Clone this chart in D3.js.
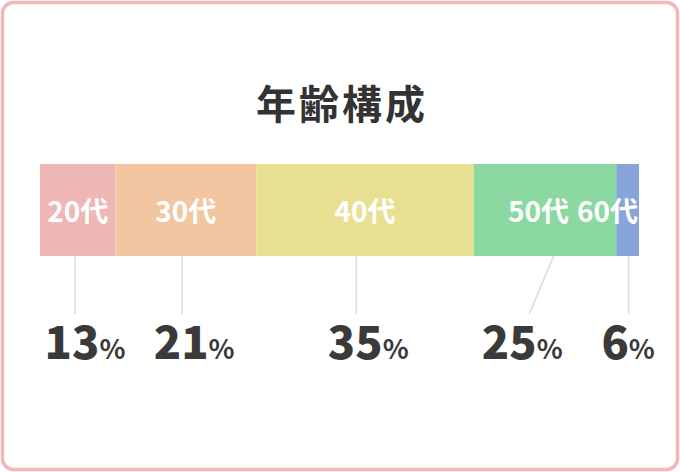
<!DOCTYPE html>
<html><head><meta charset="utf-8">
<script src="https://cdn.jsdelivr.net/npm/d3@7"></script>
<style>
html,body{margin:0;padding:0;background:#fff;}
svg{display:block;font-family:"Noto Sans CJK JP","Noto Sans",sans-serif;}
</style></head>
<body>
<svg id="chart" width="680" height="472"></svg>
<script>
// ---- data ----
const title = "年齢構成";
const categories = ["20代", "30代", "40代", "50代", "60代"];
const barValues = [12.6, 23.5, 36.3, 23.8, 3.8];      // bar widths as drawn
const percentLabels = ["13", "21", "35", "25", "6"];   // labelled shares
const colors = ["#efb6b6", "#f2c6a1", "#e9df93", "#8bd8a3", "#88a5d9"];

// ---- layout ----
const W = 680, H = 472;
const bar = {x0: 40, x1: 639, y: 164, h: 92};
const leaderTopOff = [-2.7, -3.7, -8.7, 8.7, 1];
const leaderBotOff = [-2.7, -3.7, -8.7, -15.7, 1];
const pctOff = [10, 12, 12, -7, -0.5];

const svg = d3.select("#chart");

svg.append("rect")
  .attr("x", 2.5).attr("y", 2.5)
  .attr("width", W - 5).attr("height", H - 5)
  .attr("rx", 11).attr("ry", 11)
  .attr("fill", "#fff")
  .attr("stroke", "#f0b8b8").attr("stroke-width", 3.5);

svg.append("text")
  .attr("x", 342).attr("y", 119)
  .attr("text-anchor", "middle")
  .attr("font-size", 40).attr("font-weight", 700)
  .attr("letter-spacing", 3)
  .attr("fill", "#333")
  .text(title);

const total = d3.sum(barValues);
const x = d3.scaleLinear().domain([0, total]).range([bar.x0, bar.x1]);
const stackData = [];
let acc = 0;
barValues.forEach((v, i) => { stackData.push({cat: categories[i], v, s: acc, e: acc + v, i}); acc += v; });

svg.append("g").selectAll("rect").data(stackData).join("rect")
  .attr("x", d => x(d.s))
  .attr("y", bar.y)
  .attr("width", d => x(d.e) - x(d.s))
  .attr("height", bar.h)
  .attr("fill", d => colors[d.i]);

// category labels with simple collision avoidance
const labG = svg.append("g");
const labs = labG.selectAll("text").data(stackData).join("text")
  .attr("y", 222)
  .attr("text-anchor", "middle")
  .attr("font-size", 28).attr("font-weight", 700)
  .attr("fill", "#fff")
  .text(d => d.cat);
const pos = [];
labs.each(function(d) {
  const w = this.getComputedTextLength();
  let c = (x(d.s) + x(d.e)) / 2;
  pos[d.i] = {c, w};
});
for (let i = pos.length - 1; i >= 0; i--) {
  const p = pos[i];
  let right = p.c + p.w / 2;
  const limit = (i === pos.length - 1) ? bar.x1 - 1 : (pos[i + 1].c - pos[i + 1].w / 2) - 8;
  if (right > limit) p.c -= (right - limit);
}
labs.attr("x", d => pos[d.i].c);

// leader lines
const mid = d => (x(d.s) + x(d.e)) / 2;
svg.append("g").selectAll("line").data(stackData).join("line")
  .attr("x1", d => mid(d) + leaderTopOff[d.i])
  .attr("y1", bar.y + bar.h)
  .attr("x2", d => mid(d) + leaderBotOff[d.i])
  .attr("y2", 314)
  .attr("stroke", "#dcdcdc").attr("stroke-width", 1.6);

// percent labels
const pt = svg.append("g").selectAll("text").data(stackData).join("text")
  .attr("x", d => mid(d) + leaderBotOff[d.i] + pctOff[d.i])
  .attr("y", 359)
  .attr("text-anchor", "middle")
  .attr("fill", "#3a3a3a");
pt.append("tspan").attr("font-size", 45).attr("font-weight", 900)
  .text(d => percentLabels[d.i]);
pt.append("tspan").attr("font-size", 27).attr("font-weight", 700)
  .text("%");
</script>
</body></html>
